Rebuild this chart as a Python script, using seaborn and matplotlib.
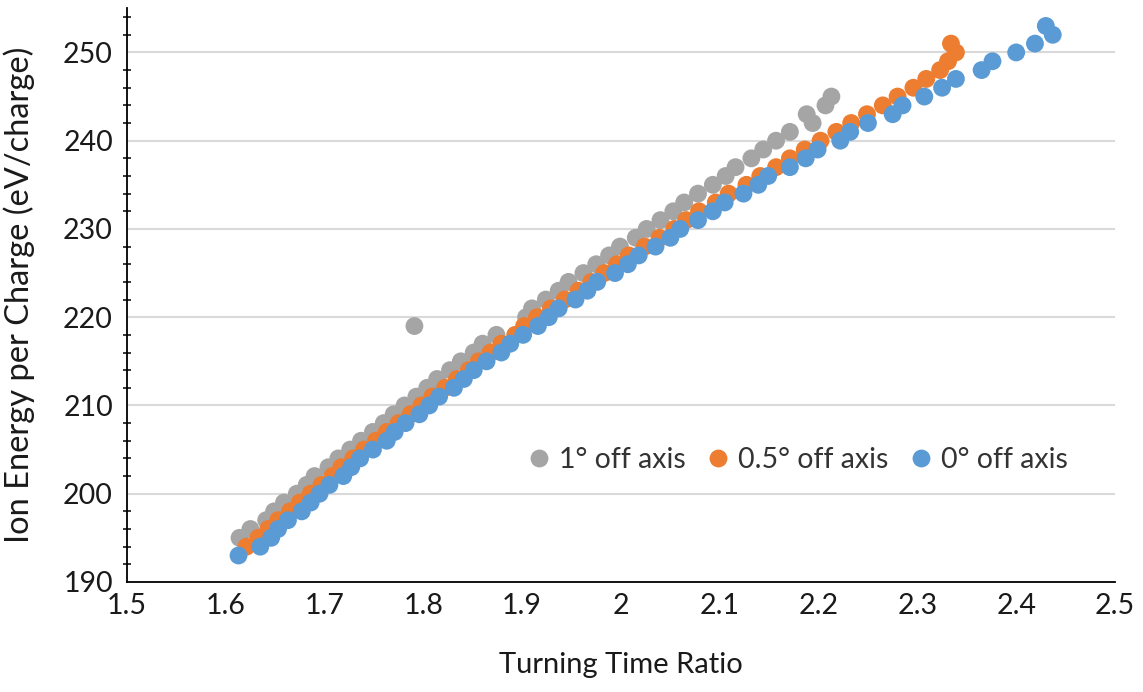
import matplotlib
matplotlib.use("Agg")
import matplotlib.pyplot as plt
from matplotlib.ticker import MultipleLocator, FuncFormatter
import seaborn as sns
import pandas as pd

# Turning time ratio vs. ion energy per charge, three detector angles
ratio_1deg = [1.614, 1.625, 1.641, 1.649, 1.659, 1.672, 1.682, 1.690, 1.704, 1.714,
              1.726, 1.737, 1.749, 1.760, 1.770, 1.781, 1.793, 1.804, 1.814, 1.827,
              1.838, 1.851, 1.860, 1.874, 1.791, 1.904, 1.910, 1.924, 1.937, 1.947,
              1.962, 1.975, 1.988, 1.999, 2.015, 2.026, 2.040, 2.053, 2.064, 2.078,
              2.093, 2.106, 2.116, 2.132, 2.144, 2.157, 2.171, 2.194, 2.188, 2.207,
              2.213]
energy_1deg = [195, 196, 197, 198, 199, 200, 201, 202, 203, 204,
               205, 206, 207, 208, 209, 210, 211, 212, 213, 214,
               215, 216, 217, 218, 219, 220, 221, 222, 223, 224,
               225, 226, 227, 228, 229, 230, 231, 232, 233, 234,
               235, 236, 237, 238, 239, 240, 241, 242, 243, 244,
               245]

ratio_05deg = [1.621, 1.633, 1.643, 1.653, 1.665, 1.675, 1.686, 1.697, 1.708, 1.717,
               1.729, 1.740, 1.752, 1.763, 1.775, 1.787, 1.798, 1.809, 1.822, 1.834,
               1.846, 1.856, 1.868, 1.879, 1.893, 1.902, 1.915, 1.929, 1.943, 1.957,
               1.970, 1.983, 1.996, 2.008, 2.024, 2.039, 2.054, 2.066, 2.079, 2.096,
               2.109, 2.127, 2.141, 2.157, 2.171, 2.186, 2.202, 2.218, 2.233, 2.249,
               2.265, 2.280, 2.296, 2.309, 2.323, 2.331, 2.339, 2.334]
energy_05deg = [194, 195, 196, 197, 198, 199, 200, 201, 202, 203,
                204, 205, 206, 207, 208, 209, 210, 211, 212, 213,
                214, 215, 216, 217, 218, 219, 220, 221, 222, 223,
                224, 225, 226, 227, 228, 229, 230, 231, 232, 233,
                234, 235, 236, 237, 238, 239, 240, 241, 242, 243,
                244, 245, 246, 247, 248, 249, 250, 251]

ratio_0deg = [1.613, 1.635, 1.646, 1.653, 1.663, 1.677, 1.686, 1.695, 1.705, 1.719,
              1.727, 1.736, 1.749, 1.763, 1.771, 1.782, 1.796, 1.806, 1.816, 1.831,
              1.841, 1.851, 1.864, 1.879, 1.888, 1.901, 1.916, 1.927, 1.937, 1.954,
              1.966, 1.976, 1.994, 2.007, 2.018, 2.035, 2.050, 2.060, 2.078, 2.093,
              2.105, 2.124, 2.139, 2.149, 2.171, 2.187, 2.199, 2.222, 2.232, 2.250,
              2.275, 2.285, 2.307, 2.325, 2.339, 2.365, 2.376, 2.400, 2.419, 2.430,
              2.437]
energy_0deg = [193, 194, 195, 196, 197, 198, 199, 200, 201, 202,
               203, 204, 205, 206, 207, 208, 209, 210, 211, 212,
               213, 214, 215, 216, 217, 218, 219, 220, 221, 222,
               223, 224, 225, 226, 227, 228, 229, 230, 231, 232,
               233, 234, 235, 236, 237, 238, 239, 240, 241, 242,
               243, 244, 245, 246, 247, 248, 249, 250, 251, 253,
               252]

series_names = ["1° off axis", "0.5° off axis", "0° off axis"]
series_colors = ["#A5A5A5", "#ED7D31", "#5B9BD5"]

frames = []
for name, xs, ys in zip(series_names,
                        [ratio_1deg, ratio_05deg, ratio_0deg],
                        [energy_1deg, energy_05deg, energy_0deg]):
    frames.append(pd.DataFrame({"ratio": xs, "energy": ys, "series": name}))
df = pd.concat(frames, ignore_index=True)

sns.set_style("white")
plt.rcParams["font.family"] = ["Lato", "DejaVu Sans"]

FS = 20.5
TXT = "#1a1a1a"

fig = plt.figure(figsize=(11.43, 6.92), dpi=100)
ax = fig.add_axes([0.111, 0.159, 0.8645, 0.829])

sns.scatterplot(data=df, x="ratio", y="energy", hue="series",
                hue_order=series_names, palette=series_colors,
                s=165, linewidth=0, alpha=1, ax=ax, zorder=3)

ax.set_xlim(1.5, 2.5)
ax.set_ylim(190, 255)
ax.xaxis.set_major_locator(MultipleLocator(0.1))
ax.yaxis.set_major_locator(MultipleLocator(10))
ax.yaxis.set_minor_locator(MultipleLocator(2))
ax.xaxis.set_major_formatter(FuncFormatter(lambda v, p: f"{v:g}"))

# horizontal gridlines at the major values above the axis
for yv in range(200, 251, 10):
    ax.axhline(yv, color="#D9D9D9", lw=1.5, zorder=1)

for side in ["top", "right"]:
    ax.spines[side].set_visible(False)
for side in ["left", "bottom"]:
    ax.spines[side].set_color("black")
    ax.spines[side].set_linewidth(1.3)

ax.tick_params(axis="both", which="major", direction="inout", length=10,
               width=1.3, color="black", labelsize=FS, labelcolor=TXT)
ax.tick_params(axis="y", which="minor", direction="inout", length=6,
               width=1.1, color="black", left=True)
ax.tick_params(axis="y", pad=5)
ax.tick_params(axis="x", pad=3)

ax.set_xlabel("Turning Time Ratio", fontsize=21, color=TXT, labelpad=24)
ax.set_ylabel("Ion Energy per Charge (eV/charge)", fontsize=23.5, color=TXT,
              labelpad=20)

ax.legend(loc="center", bbox_to_anchor=(0.676, 0.2125), ncol=3, frameon=False,
          fontsize=FS, markerscale=1.0, handletextpad=0.1, columnspacing=0.55,
          handlelength=1.2, labelcolor="#333333")

fig.savefig("out.png", dpi=100)
